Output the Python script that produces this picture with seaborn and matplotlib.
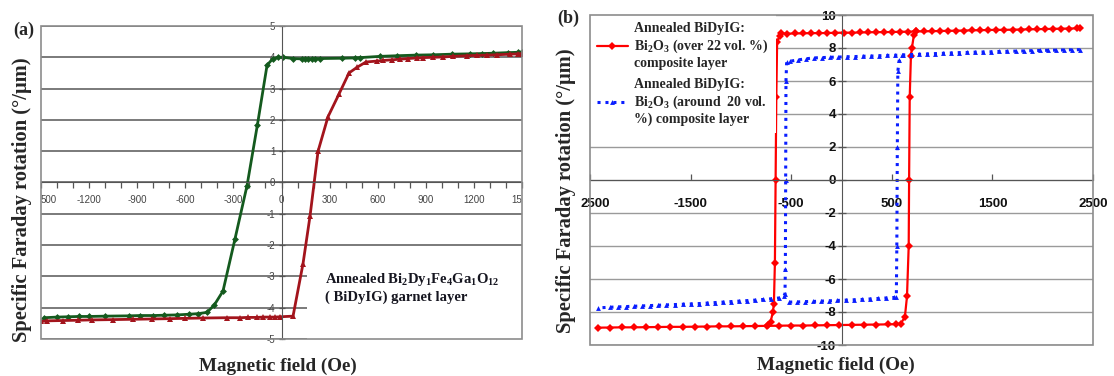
import matplotlib
matplotlib.use("Agg")
import matplotlib.pyplot as plt
import seaborn as sns
from matplotlib.patches import Rectangle
from matplotlib.ticker import FixedLocator, MultipleLocator
from matplotlib.transforms import ScaledTranslation

# --- datos panel (a): BiDyIG garnet layer ---
green_field = [-1480, -1400, -1330, -1260, -1200, -1100, -950, -880, -800, -730, -650, -580, -520,
               -465, -420, -365, -290, -215, -150, -90, -55, -20, 10, 72, 128, 147, 166, 190, 209,
               240, 377, 458, 490, 615, 720, 839, 945, 1064, 1176, 1251, 1320, 1414, 1476, 1500]
green_rot = [-4.32, -4.30, -4.29, -4.28, -4.28, -4.27, -4.26, -4.25, -4.25, -4.24, -4.23, -4.21, -4.19,
             -4.15, -3.92, -3.47, -1.8, -0.1, 1.85, 3.75, 3.95, 4.0, 4.0, 3.96, 3.95, 3.95, 3.95, 3.95, 3.96,
             3.96, 3.97, 3.98, 3.99, 4.03, 4.05, 4.07, 4.08, 4.1, 4.11, 4.12, 4.13, 4.15, 4.16, 4.17]

red_field = [-1500, -1465, -1365, -1271, -1183, -1052, -927, -808, -696, -602, -490, -340, -259, -209,
             -153, -115, -72, -41, -9, 72, 134, 178, 228, 290, 359, 421, 471, 527, 596, 633, 690, 740,
             790, 846, 883, 945, 1008, 1070, 1157, 1220, 1282, 1344, 1425, 1476, 1500]
red_rot = [-4.44, -4.42, -4.41, -4.40, -4.39, -4.38, -4.37, -4.36, -4.35, -4.34, -4.33, -4.32, -4.32, -4.31,
           -4.31, -4.30, -4.30, -4.30, -4.29, -4.27, -2.6, -1.07, 1.0, 2.1, 2.83, 3.5, 3.68, 3.85, 3.88, 3.9,
           3.92, 3.94, 3.96, 3.98, 3.99, 4.0, 4.01, 4.03, 4.05, 4.06, 4.07, 4.08, 4.1, 4.11, 4.12]

xticks_a = [-1500, -1200, -900, -600, -300, 0, 300, 600, 900, 1200, 1500]
# la primera etiqueta aparece recortada como "500" en la figura original
xticklabels_a = ["500", "-1200", "-900", "-600", "-300", "0", "300", "600", "900", "1200", "1500"]
yticks_a = [-5, -4, -3, -2, -1, 0, 1, 2, 3, 4, 5]

# --- datos panel (b): composite layers ---
# rojo: rama ascendente (campo creciente)
r22_up_field = [-2420, -2300, -2180, -2060, -1940, -1820, -1700, -1580, -1460, -1340, -1220, -1100, -980,
                -860, -740, -620, -500, -380, -260, -140, -20, 100, 220, 340, 460, 540, 590, 630, 651, 668,
                672, 678, 690, 700, 720, 740, 820, 900, 980, 1060, 1140, 1220, 1300, 1380, 1460, 1540,
                1620, 1700, 1780, 1860, 1940, 2020, 2100, 2180, 2260, 2340, 2370]
r22_up_rot = [-8.95, -8.94, -8.93, -8.93, -8.92, -8.91, -8.90, -8.90, -8.89, -8.88, -8.87, -8.87, -8.86,
              -8.85, -8.84, -8.83, -8.82, -8.82, -8.81, -8.80, -8.79, -8.78, -8.77, -8.76, -8.75, -8.74,
              -8.70, -8.3, -7.06, -4.0, 0.0, 5.0, 7.5, 8.0, 8.8, 9.0, 9.01, 9.02, 9.03, 9.04, 9.05, 9.06,
              9.07, 9.08, 9.09, 9.10, 9.10, 9.11, 9.12, 9.13, 9.14, 9.15, 9.16, 9.17, 9.18, 9.19, 9.2]
# rojo: rama descendente
r22_down_field = [740, 660, 580, 500, 420, 340, 260, 180, 100, 20, -60, -140, -220, -300, -380, -460,
                  -540, -600, -615, -640, -648, -655, -662, -672, -682, -705, -730]
r22_down_rot = [9.0, 8.99, 8.98, 8.97, 8.96, 8.96, 8.95, 8.94, 8.93, 8.93, 8.92, 8.91, 8.9, 8.9, 8.89,
                8.88, 8.87, 8.88, 8.75, 8.35, 5.0, 0.0, -5.0, -7.5, -8.0, -8.6, -8.8]

# azul: rama descendente
b20_down_field = [2370, 2290, 2210, 2130, 2050, 1970, 1890, 1810, 1730, 1650, 1570, 1490, 1410, 1330,
                  1250, 1170, 1090, 1010, 930, 850, 770, 690, 610, 530, 450, 370, 290, 210, 130, 50, -30,
                  -110, -190, -270, -350, -430, -510, -545, -552, -555, -558, -562, -575, -620, -700,
                  -780, -860, -940, -1020, -1100, -1180, -1260, -1340, -1420, -1500, -1580, -1660,
                  -1740, -1820, -1900, -1980, -2060, -2140, -2220, -2300, -2420]
b20_down_rot = [7.9, 7.89, 7.88, 7.87, 7.86, 7.85, 7.84, 7.82, 7.81, 7.8, 7.79, 7.77, 7.76, 7.75, 7.73,
                7.72, 7.7, 7.68, 7.66, 7.64, 7.62, 7.6, 7.58, 7.56, 7.55, 7.53, 7.51, 7.5, 7.48, 7.47,
                7.45, 7.44, 7.42, 7.4, 7.35, 7.28, 7.2, 7.15, 6.0, 0.0, -5.4, -6.9, -7.05, -7.15, -7.2,
                -7.24, -7.28, -7.31, -7.34, -7.37, -7.4, -7.43, -7.46, -7.49, -7.51, -7.53, -7.55, -7.57,
                -7.59, -7.61, -7.63, -7.65, -7.67, -7.69, -7.71, -7.75]
# azul: rama ascendente
b20_up_field = [-520, -440, -360, -280, -200, -120, -40, 40, 120, 200, 280, 360, 440, 520, 545, 550,
                555, 560, 575, 600]
b20_up_rot = [-7.4, -7.39, -7.37, -7.36, -7.34, -7.32, -7.3, -7.28, -7.26, -7.24, -7.21, -7.18, -7.15,
              -7.12, -7.1, -4.0, 2.0, 6.6, 7.3, 7.55]

xticks_b = [-2500, -1500, -500, 500, 1500, 2500]
xticklabels_b = ["2500", "-1500", "-500", "500", "1500", "2500"]
yticks_b = [-10, -8, -6, -4, -2, 0, 2, 4, 6, 8, 10]

label_22 = "Annealed BiDyIG:\nBi$_2$O$_3$ (over 22 vol. %)\ncomposite layer"
label_20 = "Annealed BiDyIG:\nBi$_2$O$_3$ (around  20 vol.\n%) composite layer"
note_a = "Annealed Bi$_2$Dy$_1$Fe$_4$Ga$_1$O$_{12}$\n( BiDyIG) garnet layer"

# --- estilo ---
sns.set_style("white")
plt.rcParams["font.family"] = ["Liberation Serif", "DejaVu Serif"]
plt.rcParams["mathtext.fontset"] = "custom"
plt.rcParams["mathtext.rm"] = "Liberation Serif:bold"
plt.rcParams["mathtext.default"] = "rm"

serif_bold = dict(family="Liberation Serif", weight="bold")
FRAME = "#8c8c8c"
AXISC = "#555555"

fig = plt.figure(figsize=(11.14, 3.76), dpi=100)
fig.patch.set_facecolor("white")

# ================= panel (a) =================
ax_a = fig.add_axes([41 / 1114, 1 - 339 / 376, 481 / 1114, 313 / 376])
sns.lineplot(x=green_field, y=green_rot, ax=ax_a, sort=False, estimator=None, color="#145a1e",
             marker="D", markersize=3.5, markeredgewidth=0, linewidth=2)
sns.lineplot(x=red_field, y=red_rot, ax=ax_a, sort=False, estimator=None, color="#a3141c",
             marker="^", markersize=4.5, markeredgewidth=0, linewidth=2)
ax_a.set_xlim(-1500, 1500)
ax_a.set_ylim(-5, 5)
for s in ["top", "right"]:
    ax_a.spines[s].set_visible(False)
ax_a.spines["left"].set_position(("data", 0))
ax_a.spines["bottom"].set_position(("data", 0))
ax_a.spines["left"].set_color(AXISC)
ax_a.spines["bottom"].set_color(AXISC)
ax_a.add_patch(Rectangle((0, 0), 1, 1, transform=ax_a.transAxes, fill=False,
                         edgecolor=FRAME, linewidth=1.2, clip_on=False, zorder=6))
# recuadro blanco detrás del texto (tapa la rejilla)
ax_a.add_patch(Rectangle((0.553, 0.0), 0.447, 0.297, transform=ax_a.transAxes,
                         facecolor="white", edgecolor="none", zorder=1.5))
ax_a.xaxis.set_major_locator(FixedLocator(xticks_a))
ax_a.xaxis.set_minor_locator(MultipleLocator(100))
ax_a.yaxis.set_major_locator(FixedLocator(yticks_a))
ax_a.set_xticklabels(xticklabels_a)
ax_a.set_yticklabels([str(v) for v in yticks_a])
ax_a.tick_params(axis="x", which="both", direction="out", length=4, width=0.9, color=AXISC,
                 labelsize=7, labelcolor="#444444", pad=5, bottom=True)
ax_a.tick_params(axis="y", which="major", direction="inout", length=5, width=0.9, color=AXISC,
                 labelsize=7, labelcolor="#444444", pad=2, left=True)
for lab in ax_a.get_xticklabels() + ax_a.get_yticklabels():
    lab.set_family("Liberation Sans")
xlabs = ax_a.get_xticklabels()
xlabs[0].set_horizontalalignment("left")
xlabs[-1].set_clip_on(True)
xlabs[-1].set_clip_box(ax_a.bbox)
ax_a.grid(axis="y", color="#707070", linewidth=1.3)
ax_a.grid(axis="x", visible=False)
ax_a.set_xlabel("")
ax_a.set_ylabel("")
ax_a.text(0.59, 0.165, note_a, transform=ax_a.transAxes, ha="left", va="center",
          fontsize=10.5, color="#161620", linespacing=1.25, zorder=7, **serif_bold)

fig.text(0.012, 0.92, "(a)", fontsize=13, ha="left", va="center", **serif_bold)
fig.text(0.0195, 0.468, "Specific Faraday rotation (°/μm)", rotation=90, fontsize=14.8,
         ha="center", va="center", **serif_bold)
fig.text(278 / 1114, 1 - 366 / 376, "Magnetic field (Oe)", fontsize=13.8, ha="center",
         va="center", **serif_bold)

# ================= panel (b) =================
ax_b = fig.add_axes([590 / 1114, 1 - 345 / 376, 503 / 1114, 330 / 376])
sns.lineplot(x=r22_up_field, y=r22_up_rot, ax=ax_b, sort=False, estimator=None, color="#ff0000",
             marker="D", markersize=4, markeredgewidth=0, linewidth=1.6, label=label_22)
sns.lineplot(x=r22_down_field, y=r22_down_rot, ax=ax_b, sort=False, estimator=None, color="#ff0000",
             marker="D", markersize=4, markeredgewidth=0, linewidth=1.6)
sns.lineplot(x=b20_down_field, y=b20_down_rot, ax=ax_b, sort=False, estimator=None, color="#0a1eff",
             marker="^", markersize=3.5, markeredgewidth=0, linewidth=2.2,
             linestyle=(0, (1.0, 1.6)), label=label_20)
sns.lineplot(x=b20_up_field, y=b20_up_rot, ax=ax_b, sort=False, estimator=None, color="#0a1eff",
             marker="^", markersize=3.5, markeredgewidth=0, linewidth=2.2,
             linestyle=(0, (1.0, 1.6)))
ax_b.set_xlim(-2500, 2500)
ax_b.set_ylim(-10, 10)
for s in ["top", "right"]:
    ax_b.spines[s].set_visible(False)
ax_b.spines["left"].set_position(("data", 0))
ax_b.spines["bottom"].set_position(("data", 0))
ax_b.spines["left"].set_color(AXISC)
ax_b.spines["bottom"].set_color(AXISC)
ax_b.add_patch(Rectangle((0, 0), 1, 1, transform=ax_b.transAxes, fill=False,
                         edgecolor=FRAME, linewidth=1.2, clip_on=False, zorder=6))
ax_b.xaxis.set_major_locator(FixedLocator(xticks_b))
ax_b.yaxis.set_major_locator(FixedLocator(yticks_b))
ax_b.set_xticklabels(xticklabels_b)
ax_b.set_yticklabels([str(v) for v in yticks_b])
ax_b.tick_params(axis="x", direction="in", length=4, width=0.9, color=AXISC,
                 labelsize=9.5, labelcolor="#111111", pad=13, bottom=True)
ax_b.tick_params(axis="y", direction="inout", length=6, width=0.9, color=AXISC,
                 labelsize=9.5, labelcolor="#111111", pad=1, left=True)
for lab in ax_b.get_xticklabels() + ax_b.get_yticklabels():
    lab.set_family("Liberation Sans")
    lab.set_weight("bold")
# desplazar un poco la primera etiqueta para que no toque el título del eje
first_b = ax_b.get_xticklabels()[0]
first_b.set_transform(first_b.get_transform() + ScaledTranslation(4 / 72, 0, fig.dpi_scale_trans))
ax_b.grid(axis="y", color="#9a9a9a", linewidth=1.0)
ax_b.grid(axis="x", visible=False)
ax_b.set_xlabel("")
ax_b.set_ylabel("")
leg = ax_b.legend(loc="upper left", bbox_to_anchor=(0, 1), borderaxespad=0, frameon=True,
                  fancybox=False, edgecolor="none", facecolor="white", framealpha=1, numpoints=1,
                  handlelength=2.2, labelspacing=0.6, borderpad=0.5, handletextpad=0.5,
                  prop=dict(family="Liberation Serif", weight="bold", size=10))

fig.text(557 / 1114, 0.95, "(b)", fontsize=13, ha="left", va="center", **serif_bold)
fig.text(566 / 1114, 0.492, "Specific Faraday rotation (°/μm)", rotation=90, fontsize=14.8,
         ha="center", va="center", **serif_bold)
fig.text(836 / 1114, 1 - 365 / 376, "Magnetic field (Oe)", fontsize=13.8, ha="center",
         va="center", **serif_bold)

fig.savefig("out.png", dpi=100, facecolor="white")
